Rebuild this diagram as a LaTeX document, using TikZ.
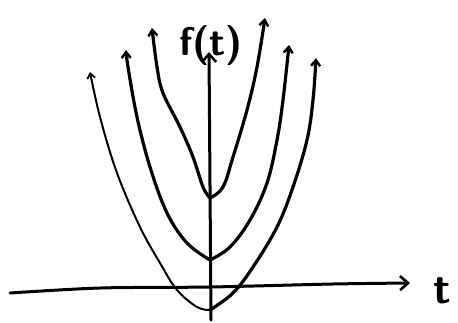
\documentclass[tikz,border=0pt]{standalone}
\usetikzlibrary{arrows.meta}
\begin{document}
\begin{tikzpicture}[x=1pt,y=-1pt,
  curve/.style={line width=3.2pt,line cap=round,line join=round,-{Straight Barb[length=6pt,width=9pt,line width=2.4pt]}},
  thincurve/.style={line width=2pt,line cap=round,line join=round,-{Straight Barb[length=5pt,width=8pt,line width=1.8pt]}},
  axis/.style={line width=3pt,line cap=round,-{Straight Barb[length=8pt,width=14pt,line width=2.6pt]}},
  lbl/.style={inner sep=0pt}]
\useasboundingbox (0,0) rectangle (458,322);
% axes
\coordinate (xs) at (10,293);
\coordinate (xe) at (410,283);
\coordinate (ys) at (211,320);
\coordinate (ye) at (209,52);
\draw[axis] plot[smooth] coordinates {(xs) (100,288) (210,287) (333,284) (xe)};
\draw[axis] (ys) -- (ye);
\node[lbl,font=\sffamily\bfseries\fontsize{44}{44}\selectfont] (t) at (442,291) {t};
\node[lbl,font=\sffamily\bfseries\fontsize{40}{40}\selectfont] (f) at (211,45) {f(t)};
% vertices
\coordinate (v1) at (210,198);
\coordinate (v2) at (210,260);
\coordinate (v3) at (210,310);
% innermost parabola
\draw[curve] plot[smooth,tension=0.6] coordinates {(v1) (203,187) (193,157) (180,127) (163,93) (157,67) (152,28)};
\draw[curve] plot[smooth,tension=0.6] coordinates {(v1) (223,187) (233,157) (247,110) (257,67) (265,18)};
% middle parabola
\draw[curve] plot[smooth,tension=0.6] coordinates {(v2) (187,243) (167,213) (150,167) (137,117) (128,67) (126,50)};
\draw[curve] plot[smooth,tension=0.6] coordinates {(v2) (230,247) (250,220) (267,183) (277,140) (283,100) (289,45)};
% outer parabola
\draw[thincurve] plot[smooth,tension=0.6] coordinates {(v3) (197,307) (177,290) (160,263) (140,227) (117,173) (100,117) (90,72)};
\draw[curve] plot[smooth,tension=0.6] coordinates {(v3) (233,293) (253,267) (277,227) (293,187) (307,140) (313,100) (316,58)};
\end{tikzpicture}
\end{document}
